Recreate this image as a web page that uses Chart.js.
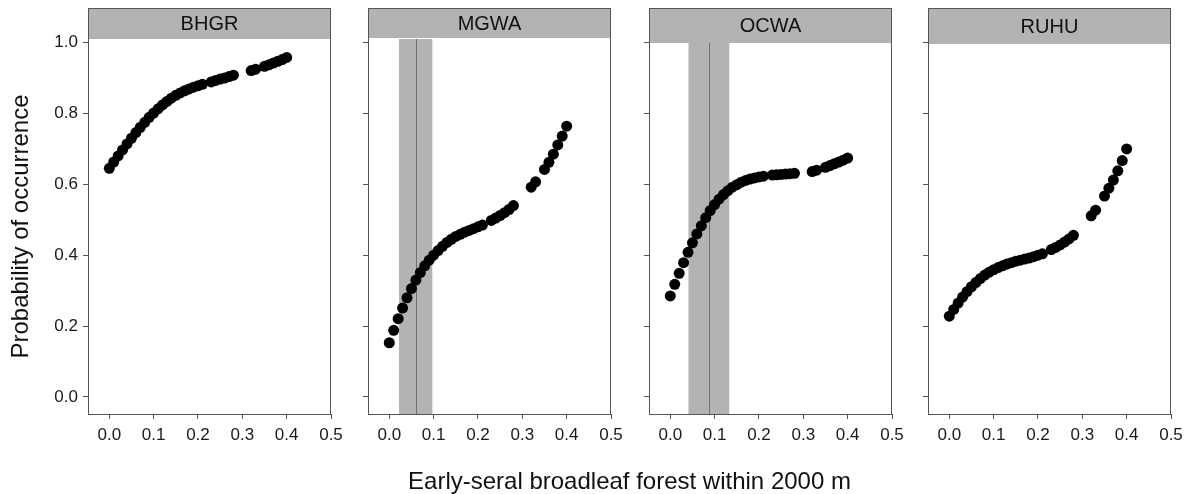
<!DOCTYPE html>
<html>
<head>
<meta charset="utf-8">
<script src="https://cdn.jsdelivr.net/npm/chart.js@4.4.1/dist/chart.umd.min.js"></script>
<style>
  body { margin: 0; background: #fff; width: 1192px; height: 494px; position: relative; overflow: hidden; font-family: "Liberation Sans", Arial, sans-serif; }
  canvas { position: absolute; top: 0; }
  #xtitle { position: absolute; left: 88px; width: 1083px; top: 467px; text-align: center; font-size: 24px; line-height: 28px; color: #111; }
</style>
</head>
<body>
<canvas id="p0" width="351" height="494"></canvas>
<canvas id="p1" width="351" height="494"></canvas>
<canvas id="p2" width="351" height="494"></canvas>
<canvas id="p3" width="351" height="494"></canvas>
<div id="xtitle">Early-seral broadleaf forest within 2000 m</div>
<script>
// data
const species = ["BHGR", "MGWA", "OCWA", "RUHU"];
const forest = [0.00, 0.01, 0.02, 0.03, 0.04, 0.05, 0.06, 0.07, 0.08, 0.09,
  0.10, 0.11, 0.12, 0.13, 0.14, 0.15, 0.16, 0.17, 0.18, 0.19, 0.20, 0.21,
  0.23, 0.24, 0.25, 0.26, 0.27, 0.28,
  0.32, 0.33, 0.35, 0.36, 0.37, 0.38, 0.39, 0.40];
const bhgr = [0.645, 0.663, 0.680, 0.697, 0.714, 0.730, 0.746, 0.761, 0.775, 0.789,
  0.801, 0.813, 0.824, 0.834, 0.843, 0.851, 0.858, 0.864, 0.869, 0.874, 0.878, 0.882,
  0.889, 0.893, 0.897, 0.900, 0.904, 0.908,
  0.921, 0.925, 0.933, 0.937, 0.942, 0.947, 0.952, 0.958];
const mgwa = [0.153, 0.188, 0.221, 0.251, 0.280, 0.306, 0.330, 0.351, 0.370, 0.386,
  0.400, 0.413, 0.425, 0.436, 0.445, 0.453, 0.459, 0.465, 0.470, 0.475, 0.480, 0.485,
  0.498, 0.505, 0.512, 0.520, 0.529, 0.540,
  0.592, 0.607, 0.642, 0.662, 0.685, 0.711, 0.736, 0.764];
const ocwa = [0.285, 0.318, 0.349, 0.379, 0.408, 0.435, 0.460, 0.483, 0.506, 0.526,
  0.543, 0.558, 0.571, 0.582, 0.592, 0.599, 0.606, 0.611, 0.615, 0.618, 0.621, 0.623,
  0.626, 0.627, 0.628, 0.629, 0.630, 0.631,
  0.636, 0.640, 0.648, 0.653, 0.658, 0.663, 0.668, 0.674];
const ruhu = [0.228, 0.247, 0.265, 0.282, 0.297, 0.311, 0.323, 0.334, 0.344, 0.352,
  0.359, 0.365, 0.370, 0.375, 0.379, 0.383, 0.386, 0.389, 0.392, 0.396, 0.400, 0.404,
  0.416, 0.422, 0.429, 0.437, 0.446, 0.456,
  0.511, 0.527, 0.567, 0.589, 0.612, 0.638, 0.667, 0.700];
const seriesBySpecies = [bhgr, mgwa, ocwa, ruhu];

// threshold estimate and its interval (only two species have one)
const bandLow = [null, 0.022, 0.041, null];
const bandMid = [null, 0.060, 0.087, null];
const bandHigh = [null, 0.097, 0.133, null];

const xTicks = [0, 0.1, 0.2, 0.3, 0.4, 0.5];
const yTicks = [0, 0.2, 0.4, 0.6, 0.8, 1.0];

// layout
const panelLeft = [88, 368, 649, 928];
const stripBottom = [39, 38, 43, 44];
const stripTop = 8;
const GREY = "#b3b3b3";
const EDGE = "#555555";
const FONT = "'Liberation Sans', Arial, sans-serif";

const facetPlugin = {
  id: "facet",
  beforeDatasetsDraw(chart, args, opts) {
    if (opts.lo == null) return;
    const { ctx, chartArea: a } = chart;
    const x = chart.scales.x;
    const x1 = x.getPixelForValue(opts.lo);
    const x2 = x.getPixelForValue(opts.hi);
    const xm = Math.round(x.getPixelForValue(opts.mid)) + 0.5;
    ctx.save();
    ctx.fillStyle = GREY;
    ctx.fillRect(x1, a.top, x2 - x1, a.bottom - a.top);
    ctx.strokeStyle = "#707070";
    ctx.lineWidth = 1;
    ctx.beginPath();
    ctx.moveTo(xm, a.top);
    ctx.lineTo(xm, a.bottom);
    ctx.stroke();
    ctx.restore();
  },
  afterDraw(chart, args, opts) {
    const { ctx, chartArea: a } = chart;
    ctx.save();
    ctx.fillStyle = GREY;
    ctx.fillRect(a.left, stripTop, a.right - a.left, opts.stripBottom - stripTop);
    ctx.fillStyle = "#111";
    ctx.font = "20px " + FONT;
    ctx.textAlign = "center";
    ctx.textBaseline = "middle";
    ctx.fillText(opts.label, (a.left + a.right) / 2, (stripTop + opts.stripBottom) / 2 + 1);
    ctx.strokeStyle = EDGE;
    ctx.lineWidth = 1;
    ctx.strokeRect(a.left + 0.5, stripTop + 0.5, a.right - a.left - 1, a.bottom - stripTop);
    ctx.restore();
  }
};

function makePanel(i) {
  const canvas = document.getElementById("p" + i);
  canvas.style.left = (panelLeft[i] - 88) + "px";
  const points = forest.map((f, k) => ({ x: f, y: seriesBySpecies[i][k] }));
  return new Chart(canvas.getContext("2d"), {
    type: "scatter",
    data: {
      datasets: [{
        label: species[i],
        data: points,
        backgroundColor: "#000",
        borderWidth: 0,
        pointRadius: 5.5,
      }],
    },
    options: {
      responsive: false,
      animation: false,
      devicePixelRatio: 1,
      layout: { padding: { top: 39, bottom: 40, left: 0, right: 20 } },
      plugins: {
        legend: { display: false },
        tooltip: { enabled: false },
        facet: { label: species[i], stripBottom: stripBottom[i], lo: bandLow[i], mid: bandMid[i], hi: bandHigh[i] },
      },
      scales: {
        x: {
          type: "linear",
          min: -0.048,
          max: 0.5,
          afterBuildTicks: (s) => { s.ticks = xTicks.map((v) => ({ value: v })); },
          afterFit: (s) => { s.height = 40; },
          border: { display: false },
          grid: { drawOnChartArea: false, drawTicks: true, tickLength: 5, color: EDGE },
          ticks: {
            padding: 6,
            maxRotation: 0,
            color: "#1a1a1a",
            font: { size: 17, family: FONT },
            callback: (v) => Number(v).toFixed(1),
          },
        },
        y: {
          type: "linear",
          min: -0.048,
          max: 1.01,
          afterBuildTicks: (s) => { s.ticks = yTicks.map((v) => ({ value: v })); },
          afterFit: (s) => { s.width = 88; },
          border: { display: false },
          grid: { drawOnChartArea: false, drawTicks: true, tickLength: 5, color: EDGE },
          title: {
            display: i === 0,
            text: "Probability of occurrence",
            color: "#111",
            font: { size: 24, family: FONT },
            padding: { top: 7, bottom: 0 },
          },
          ticks: {
            padding: 5,
            color: "#1a1a1a",
            font: { size: 17, family: FONT },
            callback: (v) => (i === 0 ? Number(v).toFixed(1) : ""),
          },
        },
      },
    },
    plugins: [facetPlugin],
  });
}

species.forEach((s, i) => makePanel(i));
</script>
</body>
</html>
